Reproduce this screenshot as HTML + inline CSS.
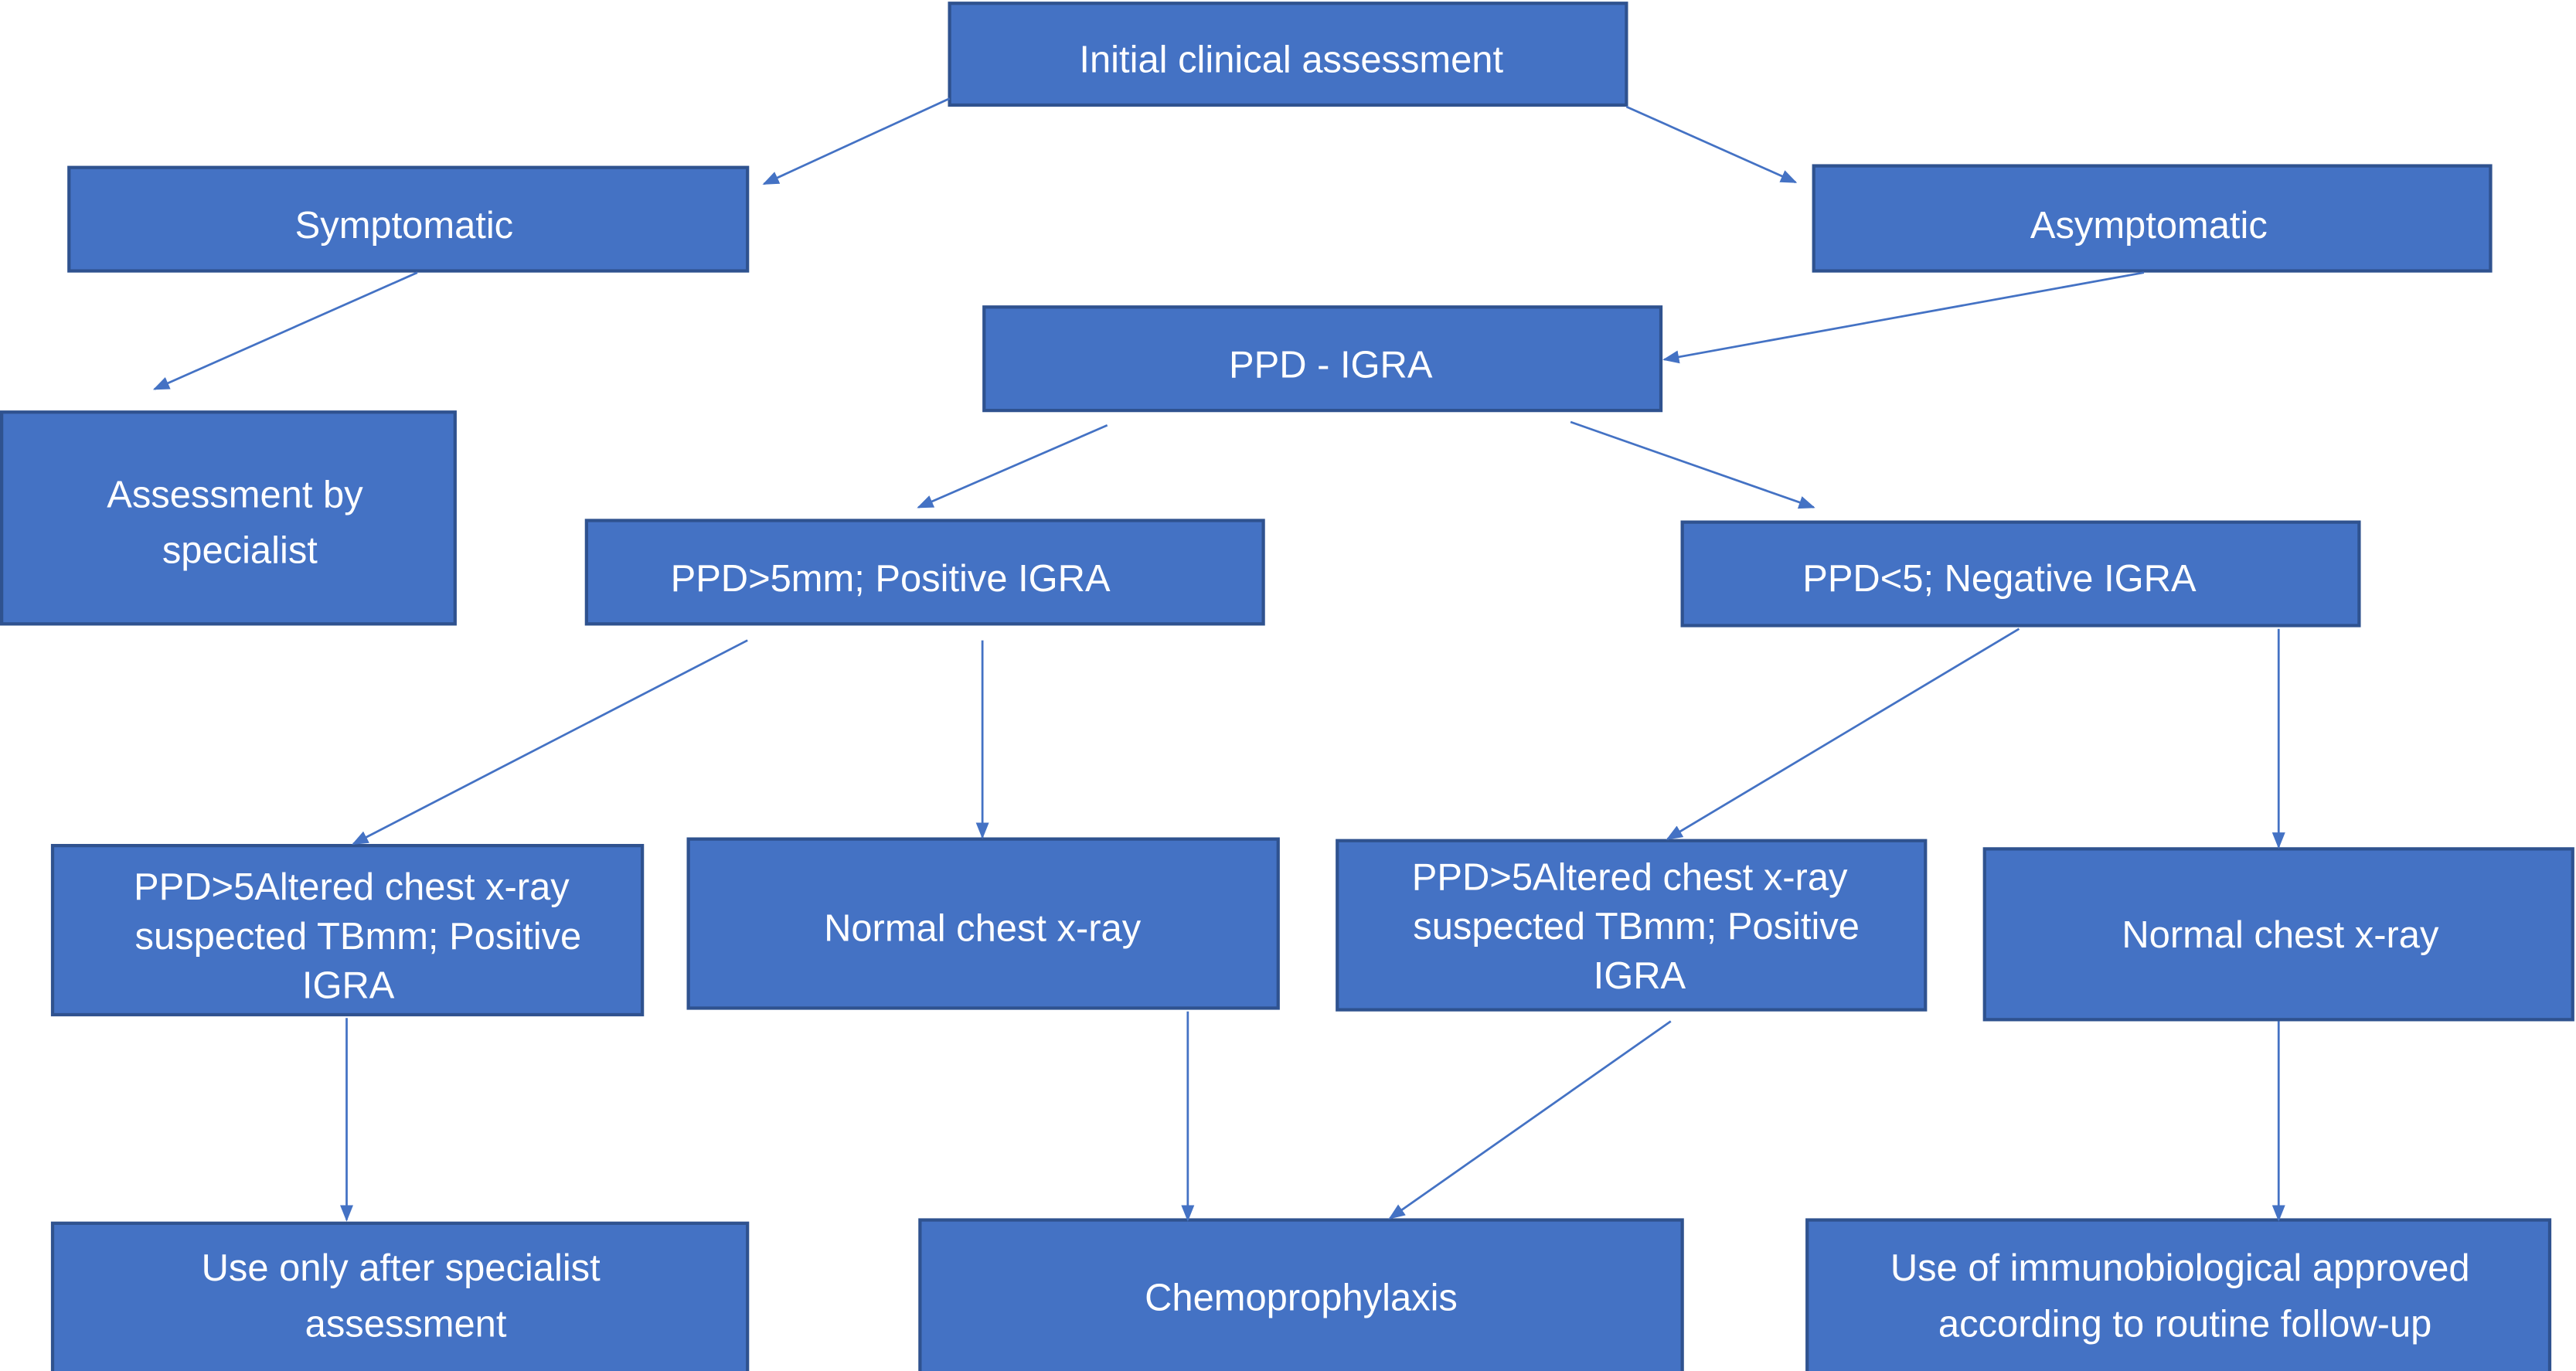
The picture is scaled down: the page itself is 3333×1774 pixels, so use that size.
<!DOCTYPE html>
<html><head><meta charset="utf-8"><style>html,body{margin:0;padding:0;background:#fff;}svg{display:block}</style></head>
<body>
<svg width="3333" height="1774" viewBox="0 0 1568 835" preserveAspectRatio="none" xmlns="http://www.w3.org/2000/svg">
<defs><marker id="a" markerWidth="10" markerHeight="8" refX="9" refY="4" orient="auto" markerUnits="userSpaceOnUse"><path d="M0,0 L10,4 L0,8 z" fill="#4472C4"/></marker></defs>
<g fill="#4472C4" stroke="#2F528F" stroke-width="2">
<rect x="578" y="2" width="412" height="62"/>
<rect x="42" y="102" width="413" height="63"/>
<rect x="1104" y="101" width="412" height="64"/>
<rect x="599" y="187" width="412" height="63"/>
<rect x="1" y="251" width="276" height="129"/>
<rect x="357" y="317" width="412" height="63"/>
<rect x="1024" y="318" width="412" height="63"/>
<rect x="32" y="515" width="359" height="103"/>
<rect x="419" y="511" width="359" height="103"/>
<rect x="814" y="512" width="358" height="103"/>
<rect x="1208" y="517" width="358" height="104"/>
<rect x="32" y="745" width="423" height="92"/>
<rect x="560" y="743" width="464" height="94"/>
<rect x="1100" y="743" width="452" height="94"/>
</g>
<g stroke="#4472C4" stroke-width="1.3" fill="none" marker-end="url(#a)">
<line x1="578" y1="60" x2="465" y2="112"/>
<line x1="990" y1="65" x2="1093" y2="111"/>
<line x1="254" y1="166" x2="94" y2="237"/>
<line x1="1305" y1="166" x2="1013" y2="219"/>
<line x1="674" y1="259" x2="559" y2="309"/>
<line x1="956" y1="257" x2="1104" y2="309"/>
<line x1="455" y1="390" x2="215" y2="514"/>
<line x1="598" y1="390" x2="598" y2="510"/>
<line x1="1229" y1="383" x2="1015" y2="511"/>
<line x1="1387" y1="383" x2="1387" y2="516"/>
<line x1="211" y1="620" x2="211" y2="743"/>
<line x1="723" y1="616" x2="723" y2="743"/>
<line x1="1017" y1="622" x2="846" y2="742"/>
<line x1="1387" y1="622" x2="1387" y2="743"/>
</g>
<g fill="#fff" font-family="Liberation Sans, sans-serif" font-size="23" text-anchor="middle">
<text x="786" y="44">Initial clinical assessment</text>
<text x="246" y="145">Symptomatic</text>
<text x="1308" y="145">Asymptomatic</text>
<text x="810" y="230">PPD - IGRA</text>
<text x="143" y="309">Assessment by</text>
<text x="146" y="343">specialist</text>
<text x="542" y="360">PPD&gt;5mm; Positive IGRA</text>
<text x="1217" y="360">PPD&lt;5; Negative IGRA</text>
<text x="214" y="548">PPD&gt;5Altered chest x-ray</text>
<text x="218" y="578">suspected TBmm; Positive</text>
<text x="212" y="608">IGRA</text>
<text x="598" y="573">Normal chest x-ray</text>
<text x="992" y="542">PPD&gt;5Altered chest x-ray</text>
<text x="996" y="572">suspected TBmm; Positive</text>
<text x="998" y="602">IGRA</text>
<text x="1388" y="577">Normal chest x-ray</text>
<text x="244" y="780">Use only after specialist</text>
<text x="247" y="814">assessment</text>
<text x="792" y="798">Chemoprophylaxis</text>
<text x="1327" y="780">Use of immunobiological approved</text>
<text x="1330" y="814">according to routine follow-up</text>
</g>
</svg>
</body></html>
